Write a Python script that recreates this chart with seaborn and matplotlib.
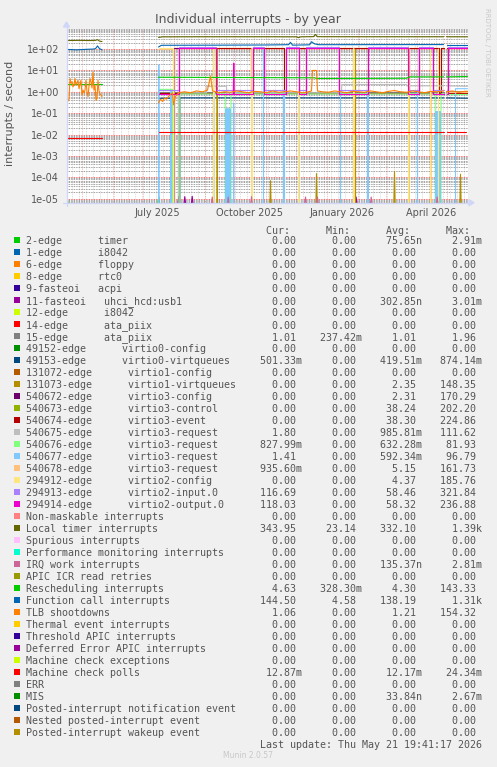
import pandas as pd
import seaborn as sns
import matplotlib.pyplot as plt
from matplotlib.ticker import FixedLocator, LogLocator, FuncFormatter, NullFormatter, NullLocator
from matplotlib.patches import Rectangle, Polygon
from matplotlib.lines import Line2D

W, H = 497, 767
start = pd.Timestamp("2025-04-16")   # left edge of the canvas = day 0

# ---------------------------------------------------------------- legend table
names = [
    "2-edge      timer", "1-edge      i8042", "6-edge      floppy", "8-edge      rtc0",
    "9-fasteoi   acpi", "11-fasteoi   uhci_hcd:usb1", "12-edge      i8042",
    "14-edge      ata_piix", "15-edge      ata_piix", "49152-edge      virtio0-config",
    "49153-edge      virtio0-virtqueues", "131072-edge      virtio1-config",
    "131073-edge      virtio1-virtqueues", "540672-edge      virtio3-config",
    "540673-edge      virtio3-control", "540674-edge      virtio3-event",
    "540675-edge      virtio3-request", "540676-edge      virtio3-request",
    "540677-edge      virtio3-request", "540678-edge      virtio3-request",
    "294912-edge      virtio2-config", "294913-edge      virtio2-input.0",
    "294914-edge      virtio2-output.0", "Non-maskable interrupts", "Local timer interrupts",
    "Spurious interrupts", "Performance monitoring interrupts", "IRQ work interrupts",
    "APIC ICR read retries", "Rescheduling interrupts", "Function call interrupts",
    "TLB shootdowns", "Thermal event interrupts", "Threshold APIC interrupts",
    "Deferred Error APIC interrupts", "Machine check exceptions", "Machine check polls",
    "ERR", "MIS", "Posted-interrupt notification event", "Nested posted-interrupt event",
    "Posted-interrupt wakeup event",
]
colors = [
    "#00CC00", "#0066B3", "#FF8000", "#FFCC00", "#330099", "#990099", "#CCFF00",
    "#FF0000", "#808080", "#008F00", "#00487D", "#B35A00", "#B38F00", "#6B006B",
    "#8FB300", "#B30000", "#BEBEBE", "#80FF80", "#80C9FF", "#FFC080", "#FFE680",
    "#AA80FF", "#EE00CC", "#FF8080", "#666600", "#FFBFFF", "#00FFCC", "#CC6699",
    "#999900", "#00CC00", "#0066B3", "#FF8000", "#FFCC00", "#330099", "#990099",
    "#CCFF00", "#FF0000", "#808080", "#008F00", "#00487D", "#B35A00", "#B38F00",
]
z = "0.00"
cur = [z, z, z, z, z, z, z, z, "1.01", z, "501.33m", z, z, z, z, z, "1.80", "827.99m",
       "1.41", "935.60m", z, "116.69", "118.03", z, "343.95", z, z, z, z, "4.63", "144.50",
       "1.06", z, z, z, z, "12.87m", z, z, z, z, z]
mins = [z, z, z, z, z, z, z, z, "237.42m", z, z, z, z, z, z, z, z, z, z, z, z, z, z, z,
        "23.14", z, z, z, z, "328.30m", "4.58", z, z, z, z, z, z, z, z, z, z, z]
avgs = ["75.65n", z, z, z, z, "302.85n", z, z, "1.01", z, "419.51m", z, "2.35", "2.31",
        "38.24", "38.30", "985.81m", "632.28m", "592.34m", "5.15", "4.37", "58.46", "58.32",
        z, "332.10", z, z, "135.37n", z, "4.30", "138.19", "1.21", z, z, z, z, "12.17m",
        z, "33.84n", z, z, z]
maxs = ["2.91m", z, z, z, z, "3.01m", z, z, "1.96", z, "874.14m", z, "148.35", "170.29",
        "202.20", "224.86", "111.62", "81.93", "96.79", "161.73", "185.76", "321.84",
        "236.88", z, "1.39k", z, z, "2.81m", z, "143.33", "1.31k", "154.32", z, z, z, z,
        "24.34m", z, "2.67m", z, z, z]

# ---------------------------------------------------------------- graph data
# (day, value) pairs, days counted from 16 April 2025.
# samples exist for days 0-36, 92-377 and 380-401
A0, A1 = 92, 377
B0, B1 = 380, 401

timer_left = [(0.5, 250), (12, 255), (24, 250), (29, 255), (31, 275), (33, 235), (35.5, 225)]
timer_a = [(92, 350), (96, 372), (140, 375), (200, 375), (230, 372), (232, 340), (234, 372),
           (247, 380), (249, 480), (251, 378), (300, 375), (377, 375)]
timer_b = [(380, 375), (401, 372)]

fcall_left = [(0.5, 96), (10, 92), (20, 97), (27, 100), (29, 104), (31, 140), (33, 104), (35.5, 92)]
fcall_a = [(92, 125), (95, 150), (150, 152), (200, 155), (222, 160), (224, 205), (226, 152),
           (243, 158), (245, 220), (248, 175), (252, 160), (377, 162)]
fcall_b = [(380, 162), (401, 162)]

resched_left = [(0.5, 2.2), (35.5, 2.2)]
resched_a = [(92, 4.8), (200, 4.6), (248, 4.5), (250, 4.2), (340, 4.3), (343, 5.0), (377, 5.0)]
resched_b = [(380, 5.0), (401, 5.2)]

tlb_left = [0.40, 0.38, 0.45, 4.2, 2.5, 3.0, 1.7, 2.2, 4.2, 2.0, 2.6, 3.5, 1.4, 2.2, 3.5, 0.7,
            1.2, 0.9, 1.2, 3.5, 1.0, 0.6, 1.8, 4.2, 2.9, 1.5, 8.5, 1.2, 2.0, 0.4, 0.5, 3.5,
            1.1, 0.8, 0.7, 0.6]
tlb_a = [(92, 0.3), (94, 0.45), (96, 0.35), (98, 0.5), (100, 0.45), (102, 0.6), (104, 0.75),
         (106, 0.9), (107, 0.25), (109, 0.6), (112, 0.9), (118, 1.0), (124, 0.9), (130, 1.1),
         (136, 1.0), (141, 1.2), (144, 5.5), (146, 1.1), (152, 0.9), (158, 1.0), (164, 0.95),
         (170, 1.1), (176, 1.0), (182, 0.9), (188, 1.05), (194, 1.0), (200, 0.9), (206, 1.1),
         (212, 0.95), (218, 1.0), (224, 1.1), (230, 1.0), (236, 0.9), (242, 1.0), (245, 1.1),
         (246, 10), (250, 10), (251, 1.1), (256, 1.0), (262, 0.95), (268, 1.1), (274, 1.0),
         (280, 0.9), (286, 1.05), (292, 1.0), (298, 0.95), (304, 1.1), (310, 1.0), (316, 0.9),
         (322, 1.05), (328, 1.15), (334, 1.0), (340, 0.95), (346, 1.1), (352, 1.0), (358, 0.9),
         (364, 1.05), (370, 1.0), (377, 1.1)]
tlb_b = [(380, 1.0), (386, 1.1), (392, 0.95), (398, 1.05), (401, 1.06)]

mcpoll_left = [(0.5, 0.0066), (35.5, 0.0066)]
mcpoll_a = [(92, 0.0135), (377, 0.0135)]
mcpoll_b = [(380, 0.0135), (399.5, 0.0135)]

virtio0_a = [(92, 0.5), (105.7, 0.5), (106, 0), (113, 0), (113.3, 0.52), (377, 0.52)]
virtio0_b = [(380, 0.52), (401, 0.5)]

ata15_a = [(92, 1.0), (377, 1.0)]
ata15_b = [(380, 1.0), (401, 1.01)]

# spans where the virtio2 queues (magenta) or virtio3 event (dark red) carry the load
virtio2_hi_a = [(112, 149), (186, 197), (219, 232), (239, 272), (301, 341), (352, 366)]
virtio2_hi_b = [(381, 401)]
virtio3_hi_a = [(149, 184), (197, 217), (232, 239), (272, 301), (342, 352), (366, 372), (374, 377)]
virtio3_hi_b = [(380, 381)]
first_hi = [(92, 106)]
second_hi = [(107, 112)]

output0_spike = [(167.3, 22)]
yellow_spikes = [(147.3, 100), (185.7, 110), (232.3, 1.0), (287.3, 105), (342.3, 105),
                 (364.0, 105), (372.0, 100)]
peach_spikes = [(107.3, 100), (185.7, 90), (287.5, 1.0), (364.3, 1.0)]
peach_b = [(380, 0.94), (401, 0.94)]
tan_spikes = [(150.7, 100), (289.0, 100), (342.3, 1.0)]
tan_tiny = [(204, 7e-5), (250, 1.5e-4), (328, 1.9e-4), (371.7, 2.6e-5), (394, 1.4e-4)]

lgray_a = [(92, 0), (112, 0), (112.3, 0.9), (140, 0.9), (140.3, 1.8), (160, 1.8), (160.3, 0.9),
           (275, 0.9), (275.3, 2.2), (340, 2.2), (340.3, 1.9), (377, 1.9)]
lgray_b = [(380, 1.9), (401, 1.8)]

lgreen_a = [(92, 1.3), (106, 1.3), (106.3, 0), (113, 0), (113.3, 0.8), (158.7, 0.8), (159, 0),
            (164.2, 0), (164.5, 0.8), (368.7, 0.8), (369, 0), (374.2, 0), (374.5, 0.8), (377, 0.8)]
lgreen_b = [(380, 0.83), (401, 0.83)]
lgreen_band1 = [(159.25, 0), (159.75, 0.15), (160.25, 0), (160.75, 0.15), (161.25, 0),
                (161.75, 0.15), (162.25, 0), (162.75, 0.15), (163.25, 0), (163.75, 0.15), (164.25, 0)]
lgreen_band2 = [(369.25, 0), (369.75, 0.11), (370.25, 0), (370.75, 0.11), (371.25, 0),
                (371.75, 0.11), (372.25, 0), (372.75, 0.11), (373.25, 0), (373.75, 0.11), (374.25, 0)]

lblue_spikes = [(92.3, 18), (104.5, 1.2), (147.5, 1.0), (167.2, 0.3), (197.0, 95), (217.5, 1.0),
                (232.5, 1.1), (274.0, 1.0), (301.5, 1.2), (351.0, 1.0)]
lblue_band1 = [(159.0, 0), (159.5, 0.16), (160.0, 0), (160.5, 0.16), (161.0, 0), (161.5, 0.16),
               (162.0, 0), (162.5, 0.16), (163.0, 0), (163.5, 0.16), (164.0, 0)]
lblue_band2 = [(369.0, 0), (369.5, 0.12), (370.0, 0), (370.5, 0.12), (371.0, 0), (371.5, 0.12),
               (372.0, 0), (372.5, 0.12), (373.0, 0), (373.5, 0.12), (374.0, 0)]
lblue_b = [(380, 0), (388.7, 0), (389, 1.4), (401, 1.4)]

timer2_tiny = [(0.7, 1.2e-5), (92.3, 1.3e-5)]
usb_tiny = [(112.3, 1.3e-5), (118.3, 1.25e-5), (125.7, 1.3e-5), (289.7, 1.2e-5)]
irqwork_tiny = [(145.7, 1.2e-5), (161.7, 1.2e-5), (185.0, 1.25e-5), (239.0, 1.2e-5),
                (251.0, 1.2e-5), (304.7, 1.2e-5), (370.7, 1.2e-5)]


def square(spans, hi, lo, a, b):
    pts = [(a, lo)]
    for s, e in spans:
        pts += [(s, lo), (s, hi), (e, hi), (e, lo)]
    pts.append((b, lo))
    if spans and spans[0][0] == a:
        pts = pts[2:]
    if spans and spans[-1][1] == b:
        pts = pts[:-2]
    return pts


def spikes(items, w=0.3, base=0.0):
    pts = []
    for d, v in items:
        pts += [(d - w, base), (d, v), (d + w, base)]
    return pts


pieces = []


def add(idx, pts, tag):
    pieces.append((names[idx], f"{idx}-{tag}", pts))


add(0, spikes(timer2_tiny, 1.5, 3e-6), "t")
add(5, spikes(usb_tiny, 1.5, 3e-6), "t")
add(8, ata15_a, "a"); add(8, ata15_b, "b")
add(10, virtio0_a, "a"); add(10, virtio0_b, "b")
add(12, square(second_hi, 110, 0, A0, A1), "a")
add(12, spikes(tan_spikes), "s")
add(12, spikes(tan_tiny, 1.0, 1e-6), "t")
add(13, square(second_hi, 112, 0, A0, A1), "a")
add(14, square(virtio3_hi_a, 110, 0.85, A0, A1), "a")
add(14, square(virtio3_hi_b, 110, 0.85, B0, B1), "b")
add(15, square(virtio3_hi_a, 115, 0.85, A0, A1), "a")
add(15, square(virtio3_hi_b, 115, 0.85, B0, B1), "b")
add(16, lgray_a, "a"); add(16, lgray_b, "b")
add(17, lgreen_a, "a"); add(17, lgreen_b, "b")
add(17, lgreen_band1, "c"); add(17, lgreen_band2, "d")
add(18, spikes(lblue_spikes), "s"); add(18, lblue_b, "b")
add(18, lblue_band1, "c"); add(18, lblue_band2, "d")
add(19, square(first_hi, 105, 0, A0, A1), "a")
add(19, spikes(peach_spikes), "s"); add(19, peach_b, "b")
add(20, square(first_hi, 110, 0, A0, A1), "a")
add(20, spikes(yellow_spikes), "s")
add(21, square(virtio2_hi_a, 120, 1.2, A0, A1), "a")
add(21, square(virtio2_hi_b, 120, 1.2, B0, B1), "b")
add(22, square(virtio2_hi_a, 115, 0.8, A0, A1), "a")
add(22, square(virtio2_hi_b, 115, 0.8, B0, B1), "b")
add(22, spikes(output0_spike, 0.5, 0.8), "s")
add(24, timer_left, "l"); add(24, timer_a, "a"); add(24, timer_b, "b")
add(27, spikes(irqwork_tiny, 1.5, 3e-6), "t")
add(29, resched_left, "l"); add(29, resched_a, "a"); add(29, resched_b, "b")
add(30, fcall_left, "l"); add(30, fcall_a, "a"); add(30, fcall_b, "b")
add(31, [(0.5 + i, v) for i, v in enumerate(tlb_left)], "l")
add(31, tlb_a, "a"); add(31, tlb_b, "b")
add(36, mcpoll_left, "l"); add(36, mcpoll_a, "a"); add(36, mcpoll_b, "b")

rows = [(start + pd.Timedelta(days=d), v, name, unit)
        for name, unit, pts in pieces for d, v in pts]
df = pd.DataFrame(rows, columns=["time", "value", "series", "unit"])
order = [n for n in names if n in set(df["series"])]
palette = dict(zip(names, colors))

# ---------------------------------------------------------------- figure
sns.set_theme(style="white")
plt.rcParams["font.family"] = "DejaVu Sans"

fig = plt.figure(figsize=(W / 100, H / 100), dpi=100)
fig.patch.set_facecolor("#F0F0F0")


def fx(x):
    return x / W


def fy(y):
    return 1 - y / H


left, right, top, bottom = 66.5, 468, 28.5, 202.7
ax = fig.add_axes([fx(left), fy(bottom), (right - left) / W, (bottom - top) / H])
ax.set_facecolor("white")

sns.lineplot(data=df, x="time", y="value", hue="series", hue_order=order, units="unit",
             estimator=None, sort=False, palette=palette, legend=False, lw=0.8, ax=ax)

ax.set_yscale("log")
ax.set_ylim(6.5e-6, 915)
end = start + pd.Timedelta(days=401.5)
ax.set_xlim(start, end)

minor_c = (0.5, 0.5, 0.5, 0.32)
major_c = (0.9, 0.25, 0.25, 0.42)
dots = (0, (1, 1))
for d in pd.date_range(start, end, freq="W-MON"):
    ax.axvline(d, color=minor_c, lw=0.6, ls=dots, zorder=0)
for d in pd.date_range("2025-05-01", end, freq="MS"):
    ax.axvline(d, color=major_c, lw=0.6, ls=dots, zorder=0)

ax.yaxis.set_major_locator(FixedLocator([1e-5, 1e-4, 1e-3, 1e-2, 1e-1, 1, 10, 100]))
ax.yaxis.set_major_formatter(FuncFormatter(lambda v, _: f"{v:.0e}"))
ax.yaxis.set_minor_locator(LogLocator(base=10, subs=range(2, 10), numticks=30))
ax.yaxis.set_minor_formatter(NullFormatter())
ax.grid(axis="y", which="major", color=major_c, lw=0.6, ls=dots)
ax.grid(axis="y", which="minor", color=minor_c, lw=0.6, ls=dots)
ax.set_axisbelow(True)

ax.set_xticks([pd.Timestamp("2025-07-16"), pd.Timestamp("2025-10-16"),
               pd.Timestamp("2026-01-16"), pd.Timestamp("2026-04-16")])
ax.set_xticklabels(["July 2025", "October 2025", "January 2026", "April 2026"])
ax.xaxis.set_minor_locator(NullLocator())
ax.set_xlabel("")
ax.set_ylabel("")
for s in ax.spines.values():
    s.set_visible(False)
ax.tick_params(axis="both", which="both", length=0, labelsize=7, labelcolor="#555555")
ax.tick_params(axis="y", pad=5.4)
ax.tick_params(axis="x", pad=4)

# rrdtool style axes with arrows
axis_c = "#CFD6F8"
fig.add_artist(Line2D([fx(63), fx(471)], [fy(bottom), fy(bottom)], color=axis_c, lw=0.9,
                      transform=fig.transFigure))
fig.add_artist(Polygon([(fx(469), fy(bottom - 3)), (fx(469), fy(bottom + 3)), (fx(474), fy(bottom))],
                       closed=True, color=axis_c, transform=fig.transFigure))
fig.add_artist(Line2D([fx(left), fx(left)], [fy(206), fy(26)], color=axis_c, lw=0.9,
                      transform=fig.transFigure))
fig.add_artist(Polygon([(fx(left - 3), fy(27)), (fx(left + 3), fy(27)), (fx(left), fy(22))],
                       closed=True, color=axis_c, transform=fig.transFigure))

fig.text(fx(248), fy(23.5), "Individual interrupts - by year", ha="center", va="baseline",
         fontsize=9, color="#555555")
fig.text(fx(10), fy(113), "interrupts / second", rotation=90, ha="center", va="center",
         fontsize=8, color="#555555")
fig.text(fx(487), fy(52), "RRDTOOL / TOBI OETIKER", rotation=270, ha="center", va="center",
         fontsize=5, color="#C8C8C8")


# ---------------------------------------------------------------- legend
def field(s):
    return s.rjust(7) if s[-1].isalpha() else (s + " ").rjust(7)


mono = dict(family="DejaVu Sans Mono", fontsize=7.2, color="#555555", ha="left", va="baseline")
header = " " * 40 + "Cur:" + " " * 6 + "Min:" + " " * 6 + "Avg:" + " " * 6 + "Max:"
fig.text(fx(26), fy(230 + 3.6), header, **mono)
for i, name in enumerate(names):
    yc = 240 + 12 * i
    line = name.ljust(39) + "   ".join(field(v) for v in (cur[i], mins[i], avgs[i], maxs[i]))
    fig.text(fx(26), fy(yc + 3.6), line, **mono)
    fig.add_artist(Rectangle((fx(14), fy(yc + 3)), 6 / W, 6 / H, facecolor=colors[i],
                             edgecolor="none", transform=fig.transFigure))
fig.text(fx(26), fy(744 + 3.6), " " * 39 + "Last update: Thu May 21 19:41:17 2026", **mono)
fig.text(fx(248), fy(755.5), "Munin 2.0.57", ha="center", va="center", fontsize=5.5,
         color="#C8C8C8")

fig.savefig("out.png", dpi=100, facecolor=fig.get_facecolor())
